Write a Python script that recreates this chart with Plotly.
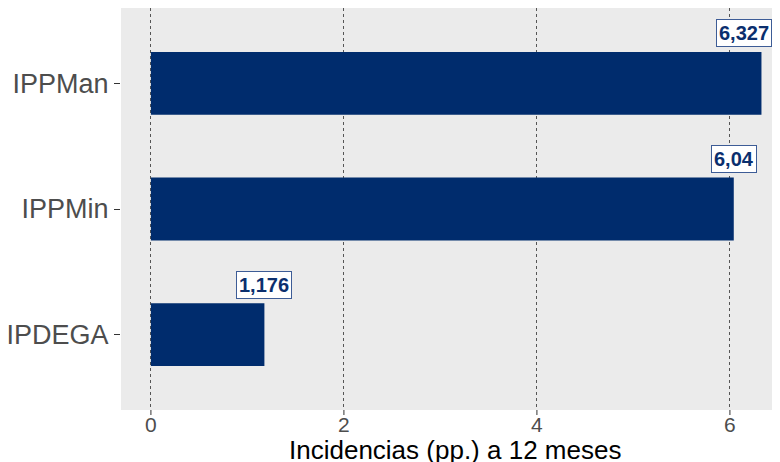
import plotly.graph_objects as go

categories = ["IPDEGA", "IPPMin", "IPPMan"]
values = [1.176, 6.04, 6.327]
labels = ["1,176", "6,04", "6,327"]
x_ticks = [0, 2, 4, 6]
x_title = "Incidencias (pp.) a 12 meses"

bar_color = "#002C6D"

fig = go.Figure()
fig.add_trace(go.Bar(
    x=values, y=categories, orientation="h",
    marker=dict(color=bar_color, line=dict(width=0)),
    width=0.5, showlegend=False, hoverinfo="skip",
))

label_shift = [0, 0, -17]
for c, v, t, s in zip(categories, values, labels, label_shift):
    fig.add_annotation(
        x=v, y=c, text="<b>" + t + "</b>", showarrow=False,
        yshift=50, xshift=s,
        font=dict(family="Liberation Sans, Arial", size=20, color="#0B2F6E"),
        bgcolor="white", bordercolor="#3D5C96", borderwidth=1, borderpad=2,
    )

fig.add_annotation(
    x=0.5, y=0, xref="paper", yref="paper", text=x_title,
    showarrow=False, xanchor="center", yanchor="top", yshift=-24,
    borderpad=0,
    font=dict(family="Liberation Sans, Arial", size=26, color="#000000"),
)

# x-axis tick marks (outside, below the panel) at the axis tick values
for tv in x_ticks:
    fig.add_shape(type="line", xref="x", yref="paper",
                  x0=tv, x1=tv, y0=0, y1=-5 / 402,
                  line=dict(color="#333333", width=1))

fig.update_layout(
    width=780, height=462,
    margin=dict(l=113, r=0, t=0, b=60, autoexpand=False),
    paper_bgcolor="white", plot_bgcolor="#EBEBEB",
    font=dict(family="Liberation Sans, Arial", color="#4D4D4D"),
    bargap=0.5,
)
fig.update_xaxes(
    range=[-0.31, 6.602], tickvals=x_ticks, ticktext=[str(v) for v in x_ticks],
    showgrid=True, gridcolor="#555555", griddash="dot", gridwidth=1,
    zeroline=False, ticks="",
    tickfont=dict(size=21, color="#4D4D4D"),
    automargin=False, showline=False,
)
fig.update_yaxes(
    categoryorder="array", categoryarray=categories,
    range=[-0.6, 2.6], showgrid=False, zeroline=False,
    ticks="outside", ticklen=6, tickcolor="#333333",
    tickfont=dict(size=27, color="#4D4D4D"), showline=False,
    automargin=False,
)

fig.write_html("out.html")
